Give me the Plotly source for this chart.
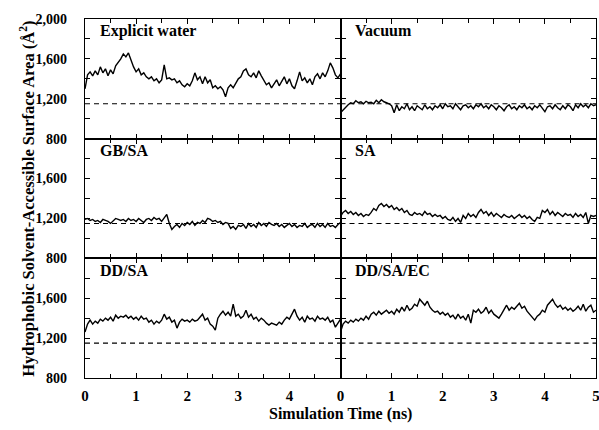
import plotly.graph_objects as go
from plotly.subplots import make_subplots

time_ns = [round(i * 0.05, 2) for i in range(101)]

explicit_water = [1300,1440,1470,1430,1480,1440,1520,1460,1500,1430,1490,1450,1530,1560,1600,1650,1620,1660,1580,1520,
                  1470,1500,1440,1460,1420,1400,1420,1380,1400,1360,1390,1540,1400,1410,1390,1400,1360,1380,1340,1320,
                  1350,1330,1380,1460,1390,1420,1350,1420,1360,1390,1310,1330,1300,1320,1290,1220,1310,1340,1310,1350,
                  1400,1420,1480,1500,1440,1420,1460,1410,1480,1430,1390,1340,1360,1310,1350,1390,1330,1380,1420,1350,
                  1400,1330,1300,1380,1470,1380,1410,1360,1400,1340,1420,1450,1400,1460,1420,1480,1560,1510,1440,1410,1450]

vacuum = [1060,1090,1110,1140,1160,1150,1180,1160,1170,1150,1175,1160,1165,1150,1185,1160,1190,1170,1160,1150,
          1130,1060,1140,1080,1120,1100,1150,1090,1120,1080,1130,1110,1090,1140,1100,1120,1090,1130,1110,1140,
          1100,1150,1120,1130,1100,1150,1120,1090,1130,1140,1110,1130,1100,1140,1120,1150,1110,1130,1100,1140,
          1120,1090,1130,1110,1080,1120,1140,1100,1120,1090,1130,1110,1140,1100,1120,1090,1130,1110,1140,1100,
          1070,1120,1130,1100,1140,1110,1090,1130,1100,1140,1120,1080,1140,1110,1150,1120,1140,1110,1150,1130,1140]

gb_sa = [1190,1200,1180,1190,1170,1180,1160,1190,1180,1170,1150,1180,1200,1190,1180,1190,1170,1200,1180,1190,
         1170,1200,1180,1160,1190,1200,1180,1210,1190,1200,1170,1210,1240,1150,1090,1120,1140,1110,1150,1130,
         1160,1140,1170,1130,1160,1150,1180,1160,1200,1190,1170,1180,1160,1170,1140,1160,1150,1100,1120,1090,
         1130,1120,1140,1100,1150,1120,1140,1110,1160,1130,1150,1120,1160,1140,1130,1150,1120,1140,1110,1130,
         1150,1120,1140,1110,1130,1120,1150,1110,1130,1140,1110,1150,1120,1140,1110,1150,1120,1130,1110,1140,1160]

sa = [1220,1260,1280,1250,1270,1240,1260,1230,1250,1220,1240,1230,1260,1300,1280,1330,1350,1320,1340,1310,
      1330,1290,1310,1280,1300,1260,1280,1240,1230,1260,1240,1250,1230,1270,1240,1250,1220,1240,1220,1230,
      1200,1220,1190,1180,1210,1170,1200,1160,1230,1200,1250,1220,1240,1210,1260,1290,1250,1270,1230,1260,
      1220,1250,1230,1210,1240,1220,1210,1230,1200,1220,1240,1210,1230,1200,1220,1190,1170,1210,1200,1280,
      1260,1290,1240,1270,1230,1260,1240,1220,1250,1230,1240,1210,1250,1220,1240,1210,1260,1150,1230,1220,1230]

dd_sa = [1260,1340,1380,1340,1370,1350,1390,1370,1400,1380,1410,1370,1430,1400,1420,1410,1430,1400,1420,1390,
         1410,1380,1420,1390,1400,1360,1380,1340,1370,1350,1380,1440,1390,1410,1360,1380,1300,1360,1390,1370,
         1380,1360,1390,1370,1380,1410,1440,1380,1400,1340,1320,1280,1400,1440,1470,1430,1460,1420,1540,1420,
         1440,1400,1420,1480,1410,1440,1390,1410,1370,1400,1380,1350,1330,1350,1340,1330,1360,1340,1380,1410,
         1390,1440,1490,1420,1380,1410,1360,1420,1390,1400,1370,1420,1390,1400,1380,1410,1360,1380,1310,1350,1390]

dd_sa_ec = [1260,1340,1370,1350,1380,1360,1390,1370,1400,1380,1420,1390,1440,1460,1430,1470,1440,1460,1480,1450,
            1470,1440,1490,1460,1510,1470,1530,1480,1500,1540,1520,1590,1560,1530,1570,1510,1480,1460,1470,1440,
            1460,1430,1450,1410,1430,1390,1440,1400,1420,1380,1440,1350,1480,1460,1490,1450,1470,1510,1450,1480,
            1440,1420,1400,1440,1490,1530,1480,1510,1490,1520,1550,1500,1520,1470,1440,1410,1380,1420,1440,1480,
            1460,1530,1560,1590,1540,1510,1530,1490,1510,1480,1500,1470,1490,1520,1480,1540,1470,1510,1530,1460,1480]

reference_level = 1150

panel_names = ["Explicit water", "Vacuum", "GB/SA", "SA", "DD/SA", "DD/SA/EC"]
panel_series = [explicit_water, vacuum, gb_sa, sa, dd_sa, dd_sa_ec]

y_ticks_top = [800, 1200, 1600, 2000]
y_tick_text_top = ["800", "1,200", "1,600", "2,000"]
y_ticks = [800, 1200, 1600]
y_tick_text = ["800", "1,200", "1,600"]
x_ticks_left = [0, 1, 2, 3, 4]
x_ticks_right = [0, 1, 2, 3, 4, 5]

fig = make_subplots(rows=3, cols=2, horizontal_spacing=0, vertical_spacing=0)

FONT = "Liberation Serif, Times New Roman, serif"

for idx, (name, series) in enumerate(zip(panel_names, panel_series)):
    r = idx // 2 + 1
    c = idx % 2 + 1
    fig.add_trace(go.Scatter(x=[time_ns[0], time_ns[-1]], y=[reference_level, reference_level],
                             mode="lines", line=dict(color="black", width=1.1, dash="5px,4px"),
                             showlegend=False, hoverinfo="skip"), row=r, col=c)
    fig.add_trace(go.Scatter(x=time_ns, y=series, mode="lines",
                             line=dict(color="black", width=1.4),
                             showlegend=False, name=name), row=r, col=c)
    sfx = "" if idx == 0 else str(idx + 1)
    fig.add_annotation(text="<b>%s</b>" % name, xref="x%s domain" % sfx, yref="y%s domain" % sfx,
                       x=0.05, y=0.9, xanchor="left", yanchor="middle", showarrow=False,
                       font=dict(family=FONT, size=16, color="black"))

    bottom = (r == 3)
    xt = (x_ticks_left if c == 1 else x_ticks_right)
    fig.update_xaxes(range=[0, 5], tickvals=xt, ticktext=["<b>%d</b>" % v for v in xt],
                     showticklabels=bottom, ticklabeloverflow="allow",
                     ticks="inside", ticklen=5, tickwidth=1, tickcolor="black",
                     minor=dict(ticks="inside", ticklen=4, tickwidth=1, tickcolor="black",
                                tickvals=[0.5, 1.5, 2.5, 3.5, 4.5]),
                     showline=True, linecolor="black", linewidth=1.2, mirror="ticks",
                     showgrid=False, zeroline=False, ticklabelstandoff=4, automargin=False,
                     tickfont=dict(family=FONT, size=15, color="black"),
                     row=r, col=c)
    if c == 1:
        yv = y_ticks_top if r == 1 else y_ticks
        ytx = y_tick_text_top if r == 1 else y_tick_text
    else:
        yv = y_ticks_top
        ytx = y_tick_text_top
    fig.update_yaxes(range=[800, 2000], tickvals=yv, ticktext=["<b>%s</b>" % t for t in ytx],
                     ticks="inside", ticklen=5, tickwidth=1, tickcolor="black",
                     minor=dict(ticks="inside", ticklen=5, tickwidth=1, tickcolor="black",
                                tickvals=[1000, 1400, 1800]),
                     showline=True, linecolor="black", linewidth=1.2, mirror="ticks",
                     showgrid=False, zeroline=False, ticklabelstandoff=14,
                     showticklabels=(c == 1), automargin=False,
                     tickfont=dict(family=FONT, size=14, color="black"),
                     row=r, col=c)

fig.add_annotation(text="<b>Hydrophobic Solvent-Accessible Surface Area (Å<sup>2</sup>)</b>",
                   xref="paper", yref="paper", x=-0.113, y=0.5, textangle=-90,
                   xanchor="center", yanchor="middle", showarrow=False,
                   font=dict(family=FONT, size=16.5, color="black"))
fig.add_annotation(text="<b>Simulation Time (ns)</b>",
                   xref="paper", yref="paper", x=0.5, y=-0.1,
                   xanchor="center", yanchor="middle", showarrow=False,
                   font=dict(family=FONT, size=16, color="black"))

fig.update_layout(width=599, height=430, margin=dict(l=85, r=3, t=19, b=52),
                  paper_bgcolor="white", plot_bgcolor="white", hovermode=False,
                  font=dict(family=FONT, size=14, color="black"))

fig.write_html("out.html", config={"displayModeBar": False},
               post_script="document.body.style.margin='0';document.body.style.overflow='hidden';")
